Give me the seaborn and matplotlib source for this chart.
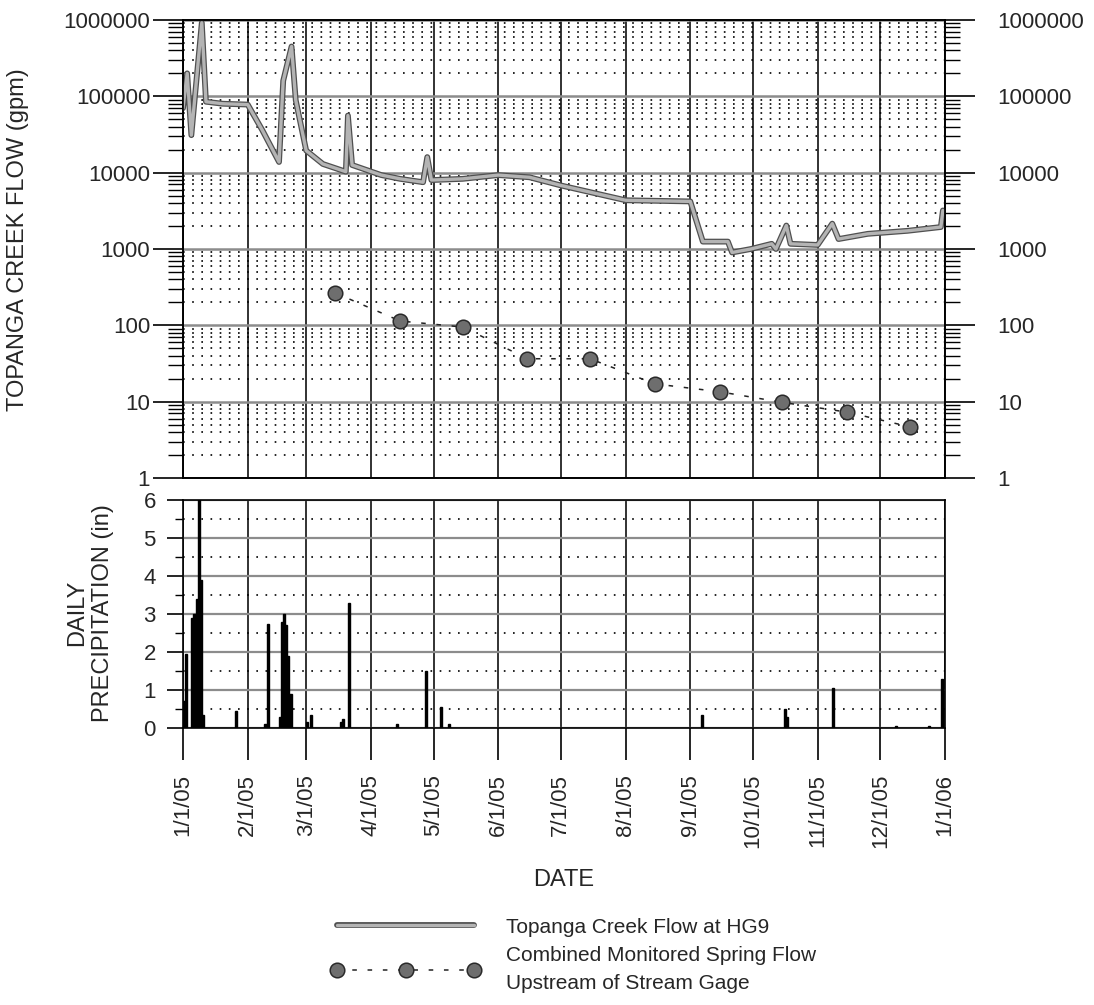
import matplotlib
matplotlib.use("Agg")
import pandas as pd
import matplotlib.pyplot as plt
import matplotlib.patheffects as pe
from matplotlib.lines import Line2D
from matplotlib.ticker import FixedLocator, NullFormatter
import seaborn as sns

# creek flow at HG9 (gpm)
flow_dates = ["2005-01-01", "2005-01-03", "2005-01-05", "2005-01-10", "2005-01-12",
              "2005-01-20", "2005-02-01", "2005-02-08", "2005-02-16", "2005-02-18",
              "2005-02-22", "2005-02-24", "2005-03-01", "2005-03-09", "2005-03-20",
              "2005-03-21", "2005-03-23", "2005-04-06", "2005-04-15", "2005-04-26",
              "2005-04-28", "2005-04-30", "2005-05-15", "2005-06-01", "2005-06-16",
              "2005-07-01", "2005-08-01", "2005-09-01", "2005-09-07", "2005-09-19",
              "2005-09-21", "2005-09-30", "2005-10-10", "2005-10-12", "2005-10-17",
              "2005-10-19", "2005-11-01", "2005-11-08", "2005-11-11", "2005-11-25",
              "2005-12-14", "2005-12-30", "2005-12-31"]
flow_gpm = [70000, 200000, 31000, 920000, 85000,
            80000, 78000, 36000, 13800, 160000,
            450000, 89000, 19500, 13000, 10300,
            56000, 12600, 9300, 8300, 7500,
            16000, 8000, 8300, 9300, 8700,
            6800, 4350, 4200, 1250, 1250,
            900, 1000, 1170, 1000, 2030,
            1170, 1130, 2150, 1350, 1580,
            1730, 1940, 3200]

# combined monitored spring flow (gpm)
spring_dates = ["2005-03-15", "2005-04-15", "2005-05-15", "2005-06-15", "2005-07-15",
                "2005-08-15", "2005-09-15", "2005-10-15", "2005-11-15", "2005-12-15"]
spring_gpm = [265, 114, 95, 36.5, 36.5, 17.1, 13.5, 9.8, 7.3, 4.7]

# daily precipitation (in)
rain_dates = ["2005-01-01", "2005-01-02", "2005-01-05", "2005-01-06", "2005-01-07",
              "2005-01-08", "2005-01-09", "2005-01-10", "2005-01-26", "2005-02-09",
              "2005-02-10", "2005-02-16", "2005-02-17", "2005-02-18", "2005-02-19",
              "2005-02-20", "2005-02-21", "2005-03-01", "2005-03-03", "2005-03-17",
              "2005-03-18", "2005-03-21", "2005-04-13", "2005-04-27", "2005-05-04",
              "2005-05-08", "2005-09-06", "2005-10-16", "2005-10-17", "2005-11-08",
              "2005-12-08", "2005-12-24", "2005-12-30"]
rain_in = [0.7, 1.95, 2.9, 3.0, 3.4,
           6.0, 3.9, 0.35, 0.45, 0.1,
           2.75, 0.3, 2.8, 3.0, 2.7,
           1.9, 0.9, 0.15, 0.35, 0.15,
           0.25, 3.3, 0.1, 1.5, 0.55,
           0.1, 0.35, 0.5, 0.3, 1.05,
           0.04, 0.05, 1.3]

month_labels = ["1/1/05", "2/1/05", "3/1/05", "4/1/05", "5/1/05", "6/1/05", "7/1/05",
                "8/1/05", "9/1/05", "10/1/05", "11/1/05", "12/1/05", "1/1/06"]
flow_ticks = [1, 10, 100, 1000, 10000, 100000, 1000000]
flow_labels = ["1", "10", "100", "1000", "10000", "100000", "1000000"]
rain_ticks = [0, 1, 2, 3, 4, 5, 6]

sns.set_theme(style="white")
plt.rcParams["font.family"] = ["Liberation Sans", "DejaVu Sans"]
plt.rcParams["axes.edgecolor"] = "black"
plt.rcParams["axes.linewidth"] = 1.2

W, H = 1094, 1005
fig = plt.figure(figsize=(W / 100, H / 100), dpi=100)
ax = fig.add_axes([183 / W, 1 - 478 / H, 762 / W, 458 / H])
ax_p = fig.add_axes([183 / W, 1 - 728 / H, 762 / W, 228 / H])

months = pd.date_range("2005-01-01", "2006-01-01", freq="MS")
x0, x1 = pd.Timestamp("2005-01-01"), pd.Timestamp("2006-01-01")
minor_log = [m * 10 ** e for e in range(0, 6) for m in range(2, 10)]

flow_fx = [pe.Stroke(linewidth=4.2, foreground="#505050"), pe.Normal()]
dash = (0, (3, 7))
dots = (0, (1, 4.5))
spring_kw = dict(color="#222222", lw=1.1, linestyle=dash, marker="o", markersize=10.5,
                 markerfacecolor="#6e6e6e", markeredgecolor="#2a2a2a",
                 markeredgewidth=1.1)

# --- top panel: flow
sns.lineplot(x=pd.to_datetime(flow_dates), y=flow_gpm, ax=ax, color="#b4b4b4",
             lw=2.4, path_effects=flow_fx, zorder=4)
sns.lineplot(x=pd.to_datetime(spring_dates), y=spring_gpm, ax=ax, zorder=5, **spring_kw)
ax.set_yscale("log")
ax.set_ylim(1, 1e6)
ax.set_xlim(x0, x1)
ax.yaxis.set_major_locator(FixedLocator(flow_ticks))
ax.set_yticklabels(flow_labels)
ax.yaxis.set_minor_locator(FixedLocator(minor_log))
ax.yaxis.set_minor_formatter(NullFormatter())
ax.set_xticks(months)
ax.tick_params(axis="x", which="both", length=0, labelbottom=False)
ax.tick_params(axis="y", which="major", direction="out", length=21.6, width=1.2,
               color="black", labelsize=16, pad=2)
ax.tick_params(axis="y", which="minor", direction="out", length=10.8, width=1,
               color="black", left=True)
ax.grid(True, which="major", axis="y", color="#8c8c8c", lw=1.8)
ax.grid(True, which="minor", axis="y", color="black", lw=1.2, linestyle=dots)
ax.grid(True, which="major", axis="x", color="#222222", lw=1.3)
ax.set_xlabel("")
ax.set_ylabel("")

ax_r = ax.twinx()
ax_r.set_yscale("log")
ax_r.set_ylim(1, 1e6)
ax_r.yaxis.set_major_locator(FixedLocator(flow_ticks))
ax_r.set_yticklabels(flow_labels)
ax_r.yaxis.set_minor_locator(FixedLocator(minor_log))
ax_r.yaxis.set_minor_formatter(NullFormatter())
ax_r.tick_params(axis="y", which="major", direction="out", length=21.6, width=1.2,
                 color="black", labelsize=16, pad=16, right=True)
ax_r.tick_params(axis="y", which="minor", direction="out", length=10.8, width=1,
                 color="black", right=True)
ax_r.grid(False)

# --- bottom panel: precipitation
ax_p.bar(pd.to_datetime(rain_dates), rain_in, width=1.0, align="edge",
         color="black", edgecolor="black", linewidth=1.0, zorder=4)
ax_p.set_ylim(0, 6)
ax_p.set_xlim(x0, x1)
ax_p.set_yticks(rain_ticks)
ax_p.set_yticks([0.5, 1.5, 2.5, 3.5, 4.5, 5.5], minor=True)
ax_p.set_xticks(months)
ax_p.set_xticklabels(month_labels, rotation=90)
ax_p.tick_params(axis="y", which="major", direction="out", length=11.5, width=1.2,
                 color="black", labelsize=16, pad=8, left=True)
ax_p.tick_params(axis="y", which="minor", direction="out", length=6, width=1,
                 color="black", left=True)
ax_p.tick_params(axis="x", which="major", direction="out", length=23, width=1.2,
                 color="black", labelsize=16, pad=10, bottom=True)
ax_p.grid(True, which="major", axis="y", color="#8c8c8c", lw=1.6)
ax_p.grid(True, which="minor", axis="y", color="black", lw=1.2, linestyle=dots)
ax_p.grid(True, which="major", axis="x", color="#222222", lw=1.3)
ax_p.set_axisbelow(True)
ax_p.set_xlabel("")
ax_p.set_ylabel("")

fig.text(18 / W, 1 - 240 / H, "TOPANGA CREEK FLOW (gpm)", rotation=90,
         ha="center", va="center", fontsize=17)
fig.text(90 / W, 1 - 613 / H, "DAILY\nPRECIPITATION (in)", rotation=90,
         ha="center", va="center", multialignment="center", fontsize=17,
         linespacing=1.2)
fig.text(564 / W, 1 - 880 / H, "DATE", ha="center", va="center", fontsize=17)

handles = [
    Line2D([], [], color="#b4b4b4", lw=2.4, path_effects=flow_fx),
    Line2D([], [], **spring_kw),
]
labels = ["Topanga Creek Flow at HG9",
          "Combined Monitored Spring Flow\nUpstream of Stream Gage"]
leg = fig.legend(handles, labels, loc="upper left", bbox_to_anchor=(312 / W, 1 - 899 / H),
                 frameon=False, fontsize=15, handlelength=7.2, handletextpad=1.2,
                 numpoints=3, labelspacing=0.45, borderpad=0.4)
for t in leg.get_texts():
    t.set_linespacing(1.6)

fig.savefig("out.png", dpi=100)
